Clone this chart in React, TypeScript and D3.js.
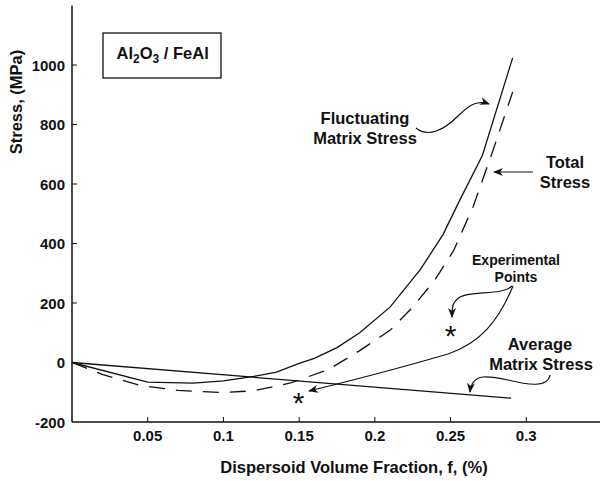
import React from "react";
import * as d3 from "d3";

const fluctX = [0, 0.05, 0.08, 0.1, 0.12, 0.135, 0.15, 0.16, 0.175, 0.19, 0.21, 0.23, 0.245, 0.256, 0.271, 0.291];
const fluctY = [0, -66, -69, -62, -47, -32, -3, 14, 50, 100, 186, 312, 430, 545, 696, 1024];

const totalX = [0, 0.02, 0.045, 0.07, 0.1, 0.12, 0.145, 0.17, 0.19, 0.21, 0.225, 0.24, 0.252, 0.265, 0.278, 0.291];
const totalY = [0, -40, -77, -94, -101, -95, -68, -22, 40, 108, 186, 280, 376, 525, 713, 909];

const avgX = [0, 0.29];
const avgY = [0, -120];

const expX = [0.1496, 0.25];
const expY = [-111, 113];

const xTicks = [0.05, 0.1, 0.15, 0.2, 0.25, 0.3];
const xTickLabels = ["0.05", "0.1", "0.15", "0.2", "0.25", "0.3"];
const yTicks = [-200, 0, 200, 400, 600, 800, 1000];

const FONT = "'Liberation Sans', Arial, Helvetica, sans-serif";

export default function App() {
  const W = 600, H = 481;
  const x = d3.scaleLinear().domain([0, 0.35]).range([72, 602]);
  const y = d3.scaleLinear().domain([-200, 1200]).range([422, 5.5]);

  const line = d3.line<[number, number]>().x((d) => x(d[0])).y((d) => y(d[1])).curve(d3.curveLinear);
  const fluct = line(fluctX.map((v, i) => [v, fluctY[i]]))!;
  const total = line(totalX.map((v, i) => [v, totalY[i]]))!;
  const avg = line(avgX.map((v, i) => [v, avgY[i]]))!;

  return (
    <svg width={W} height={H} style={{ position: "absolute", left: 0, top: 0, background: "#fff" }} fontFamily={FONT}>
      <defs>
        <marker id="ah" viewBox="0 0 10 8" refX="9" refY="4" markerWidth="10" markerHeight="8" markerUnits="userSpaceOnUse" orient="auto">
          <path d="M0,0 L10,4 L0,8 L3,4 z" fill="#111" />
        </marker>
      </defs>

      {/* axes */}
      <line x1={x(0)} x2={x(0)} y1={y(1200)} y2={y(-200)} stroke="#111" strokeWidth={1.5} />
      <line x1={x(0)} x2={x(0.35)} y1={y(-200)} y2={y(-200)} stroke="#111" strokeWidth={1.5} />
      {yTicks.map((t) => (
        <g key={"y" + t}>
          {t !== -200 && <line x1={x(0)} x2={x(0) + 5} y1={y(t)} y2={y(t)} stroke="#111" strokeWidth={1} />}
          <text x={65} y={y(t) + 5.5} textAnchor="end" fontSize={15} fontWeight="bold" fill="#111">{t}</text>
        </g>
      ))}
      {xTicks.map((t, i) => (
        <g key={"x" + t}>
          <line x1={x(t)} x2={x(t)} y1={y(-200)} y2={y(-200) - 5} stroke="#111" strokeWidth={1} />
          <text x={x(t)} y={441} textAnchor="middle" fontSize={15} fontWeight="bold" fill="#111">{xTickLabels[i]}</text>
        </g>
      ))}
      <text transform="translate(22,102) rotate(-90)" textAnchor="middle" fontSize={16.5} fontWeight="bold" fill="#111">Stress, (MPa)</text>
      <text x={354} y={473} textAnchor="middle" fontSize={16.5} fontWeight="bold" fill="#111">Dispersoid Volume Fraction, f, (%)</text>

      {/* box */}
      <rect x={103} y={33} width={118} height={45} fill="none" stroke="#111" strokeWidth={1.3} />
      <text x={116.5} y={58.5} fontSize={16.5} fontWeight="bold" fill="#111">
        Al<tspan fontSize={12} dy={4}>2</tspan><tspan dy={-4}>O</tspan><tspan fontSize={12} dy={4}>3</tspan><tspan dy={-4}> / FeAl</tspan>
      </text>

      {/* curves */}
      <path d={fluct} fill="none" stroke="#111" strokeWidth={1.3} />
      <path d={total} fill="none" stroke="#111" strokeWidth={1.3} strokeDasharray="16,11" />
      <path d={avg} fill="none" stroke="#111" strokeWidth={1.3} />

      {/* experimental points */}
      {expX.map((v, i) => (
        <text key={"e" + i} x={x(v)} y={y(expY[i]) + 17} textAnchor="middle" fontSize={30} fill="#111">*</text>
      ))}

      {/* annotations */}
      <g fontSize={16.5} fontWeight="bold" fill="#111" textAnchor="middle">
        <text x={365} y={123.5}>Fluctuating</text>
        <text x={365} y={143.5}>Matrix Stress</text>
        <text x={565} y={168}>Total</text>
        <text x={565} y={187.5}>Stress</text>
        <text x={540} y={350}>Average</text>
        <text x={541} y={369.5}>Matrix Stress</text>
      </g>
      <g fontSize={14} fontWeight="bold" fill="#111" textAnchor="middle">
        <text x={516} y={265}>Experimental</text>
        <text x={516} y={282}>Points</text>
      </g>

      <g fill="none" stroke="#111" strokeWidth={1.2}>
        <path d="M416,128 C428,138 444,130 458,116 C470,104 478,100 489,104" markerEnd="url(#ah)" />
        <path d="M533,172 L494,172" markerEnd="url(#ah)" />
        <path d="M512,286 C502,296 472,290 460,297 C452,302 452,308 452,317" markerEnd="url(#ah)" />
        <path d="M513,286 C498,322 480,343 448,354 C400,368 350,381 309,391" markerEnd="url(#ah)" />
        <path d="M550,375 C548,388 528,385 508,380 C490,376 472,372 470,392" markerEnd="url(#ah)" />
      </g>
    </svg>
  );
}
